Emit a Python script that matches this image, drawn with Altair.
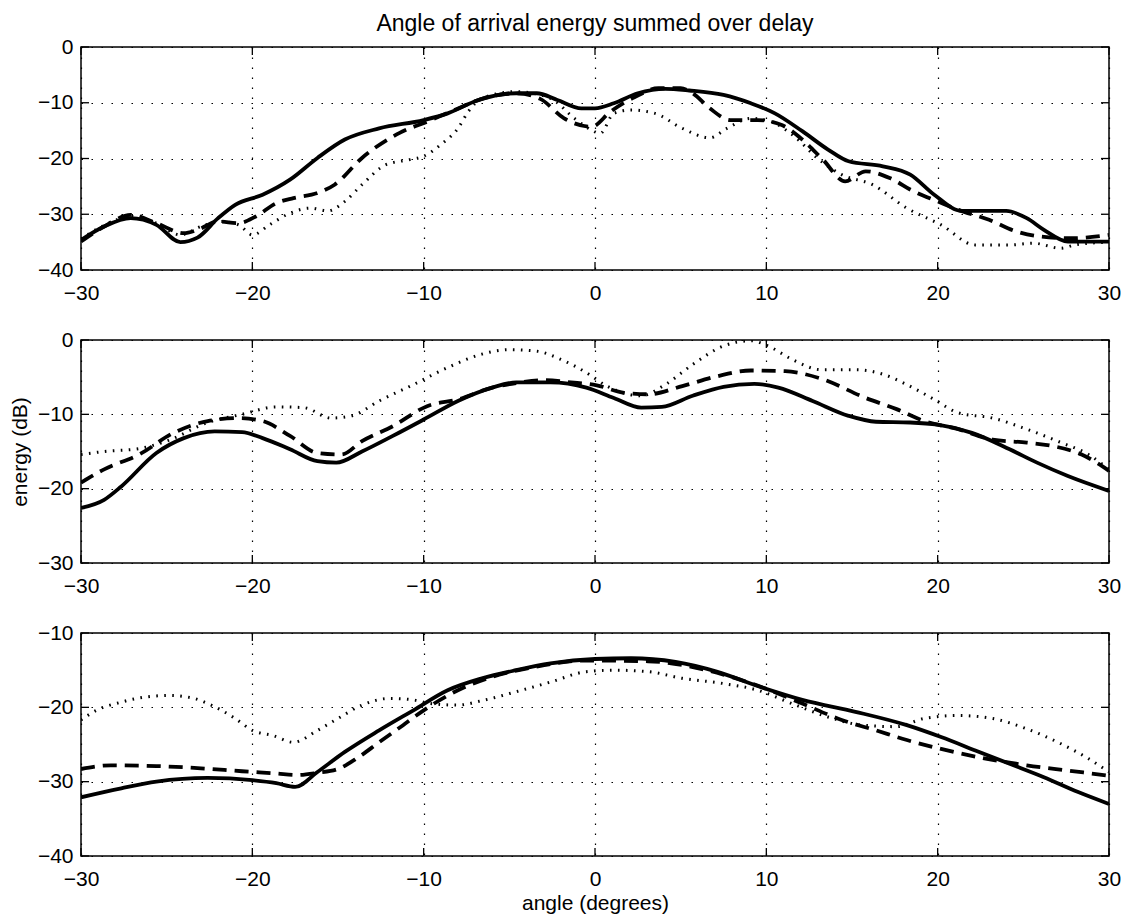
import altair as alt
import pandas as pd

FONT = "Liberation Sans"

# ---------------- Panel 1 ----------------
p1_solid_x = [-30, -28.65, -27.1, -25.6, -24.2, -23.2, -22.0, -21.0, -19.4, -17.8, -16.2, -14.6, -12.6, -10.0,
              -8.6, -6.8, -4.6, -3.4, -2.2, -0.8, 0, 1.1, 2.5, 4.1, 5.5, 7.5, 9.1, 10.5, 12.1, 13.6, 14.8, 16.8,
              18.4, 19.8, 21.4, 24.0, 25.2, 26.2, 27.6, 30]
p1_solid_y = [-34.6, -32.2, -30.7, -31.9, -35.0, -34.2, -30.7, -28.3, -26.5, -23.8, -19.9, -16.6, -14.6, -13.1,
              -11.9, -9.5, -8.3, -8.3, -9.5, -11.0, -11.0, -10.1, -8.3, -7.5, -7.8, -8.6, -10.1, -11.9, -15.1,
              -18.4, -20.5, -21.4, -22.9, -26.5, -29.4, -29.4, -30.7, -32.8, -34.9, -34.9]
p1_dash_x = [-30, -28.65, -27.1, -25.6, -24.0, -23.2, -22.0, -20.8, -19.8, -18.6, -17.6, -16.2, -15.2, -13.6,
             -11.4, -9.8, -8.2, -6.6, -4.6, -3.2, -1.8, -0.2, 0.9, 2.3, 3.7, 5.0, 5.7, 6.7, 7.9, 9.5, 10.9,
             12.1, 13.3, 14.6, 15.8, 17.2, 18.6, 20.0, 21.2, 23.0, 24.6, 26.0, 27.8, 30]
p1_dash_y = [-34.9, -32.2, -30.1, -31.6, -33.4, -32.8, -31.3, -31.6, -30.4, -28.0, -27.1, -26.2, -24.7, -19.9,
             -15.4, -13.4, -11.3, -9.3, -8.3, -9.3, -12.8, -14.3, -11.6, -9.0, -7.4, -7.4, -8.3, -11.0, -13.1,
             -13.1, -14.0, -16.6, -20.2, -24.1, -22.3, -23.5, -25.9, -27.7, -29.2, -31.0, -33.1, -34.0, -34.3,
             -33.7]
p1_dot_x = [-30, -28.65, -27.1, -25.6, -24.2, -23.0, -21.8, -20.8, -20.0, -19.0, -17.8, -16.6, -15.6, -14.6,
            -13.6, -12.2, -10.8, -10.0, -9.0, -8.0, -7.4, -6.6, -4.6, -2.6, -1.2, -0.2, 0.3, 1.1, 2.1, 3.5, 5.1,
            6.7, 7.7, 9.1, 10.3, 11.5, 13.2, 14.4, 16.2, 18.2, 20.2, 22.2, 24.2, 25.6, 27.2, 28.0, 30]
p1_dot_y = [-34.4, -32.0, -30.4, -31.6, -33.7, -32.2, -31.3, -31.9, -33.7, -31.9, -29.8, -28.9, -29.4, -27.7,
            -24.7, -21.1, -20.2, -19.6, -17.5, -14.6, -11.6, -9.2, -8.0, -9.2, -12.8, -14.9, -15.5, -11.9,
            -11.3, -11.9, -14.6, -16.3, -14.6, -12.8, -13.4, -15.7, -20.5, -22.9, -24.7, -28.9, -31.9, -35.5,
            -35.5, -35.2, -36.1, -35.5, -35.0]

# ---------------- Panel 2 ----------------
p2_solid_x = [-30, -28.65, -27.65, -25.6, -24.0, -22.2, -20.6, -19.4, -17.8, -16.2, -15.1, -13.6, -11.8, -10.0,
              -8.0, -6.0, -4.6, -2.6, -0.5, 1.1, 2.7, 3.9, 5.7, 7.5, 9.3, 10.7, 12.7, 14.8, 16.4, 18.4, 20.0,
              22.0, 24.2, 25.8, 27.6, 30]
p2_solid_y = [-22.6, -21.5, -19.7, -15.2, -13.2, -12.3, -12.4, -13.2, -14.7, -16.3, -16.5, -15.0, -12.9, -10.7,
              -8.2, -6.4, -5.7, -5.7, -6.4, -7.8, -9.1, -9.0, -7.5, -6.3, -5.9, -6.4, -8.2, -10.2, -11.0, -11.1,
              -11.4, -12.5, -14.7, -16.5, -18.3, -20.3]
p2_dash_x = [-30, -28.65, -26.6, -24.6, -22.6, -20.8, -19.4, -17.8, -16.2, -14.8, -13.6, -11.8, -9.8, -8.0,
             -6.0, -4.6, -3.0, -1.4, 0.1, 1.7, 3.1, 5.1, 7.1, 9.1, 11.1, 13.2, 15.8, 17.6, 19.2, 21.2, 23.2,
             25.2, 26.8, 28.4, 30]
p2_dash_y = [-19.2, -17.4, -15.4, -12.5, -10.9, -10.5, -10.9, -12.9, -15.2, -15.4, -13.6, -11.6, -8.9, -8.0,
             -6.4, -5.8, -5.4, -5.7, -6.1, -7.1, -7.3, -6.2, -4.9, -4.1, -4.2, -5.2, -7.8, -9.3, -10.9, -12.0,
             -13.4, -13.8, -14.3, -15.4, -17.6]
p2_dot_x = [-30, -28.65, -26.6, -25.0, -22.6, -20.6, -18.6, -17.0, -15.4, -14.2, -12.6, -10.6, -8.6, -6.6,
            -5.0, -3.4, -2.0, -0.5, 0.7, 2.7, 4.1, 5.7, 7.5, 9.1, 10.1, 11.5, 13.2, 15.2, 16.8, 18.2, 19.8, 21.2,
            23.2, 25.2, 27.2, 28.8, 30]
p2_dot_y = [-15.4, -15.0, -14.6, -13.6, -11.1, -10.0, -9.0, -9.1, -10.5, -10.2, -8.2, -6.0, -3.7, -1.9, -1.3,
            -1.5, -2.6, -4.4, -6.2, -7.5, -6.0, -3.3, -0.8, -0.1, -0.8, -2.6, -4.0, -4.0, -4.6, -6.0, -8.0,
            -9.8, -10.5, -12.0, -13.8, -15.4, -17.4]

# ---------------- Panel 3 ----------------
p3_solid_x = [-30, -27.65, -25.6, -22.6, -20.0, -18.6, -17.5, -16.2, -14.6, -12.6, -10.6, -8.6, -6.6, -4.6,
              -2.6, 0.0, 2.1, 4.7, 7.1, 9.7, 12.1, 15.2, 18.2, 20.2, 22.2, 24.2, 26.2, 28.2, 30]
p3_solid_y = [-32.1, -30.9, -30.0, -29.5, -29.8, -30.2, -30.7, -28.7, -26.0, -23.1, -20.4, -17.7, -16.1, -15.0,
              -14.1, -13.5, -13.4, -13.9, -15.2, -17.3, -19.0, -20.6, -22.4, -24.0, -25.8, -27.6, -29.4, -31.4,
              -33.0]
p3_dash_x = [-30, -28.25, -25.6, -23.0, -20.6, -18.6, -17.4, -16.2, -15.0, -13.8, -12.6, -11.2, -10.0, -8.0,
             -6.0, -3.6, -0.5, 3.1, 5.1, 7.5, 10.1, 12.1, 14.4, 16.4, 18.2, 20.2, 22.8, 25.2, 27.6, 30]
p3_dash_y = [-28.3, -27.8, -27.9, -28.2, -28.6, -28.9, -29.1, -28.8, -28.3, -26.7, -24.7, -22.4, -20.4, -17.7,
             -15.9, -14.6, -13.7, -13.8, -14.3, -15.6, -17.6, -19.5, -21.7, -23.1, -24.4, -25.6, -26.9, -27.8,
             -28.5, -29.2]
p3_dot_x = [-30, -29.1, -27.65, -26.2, -24.8, -23.4, -22.4, -21.0, -20.0, -18.8, -17.6, -16.2, -15.0, -13.6,
            -12.0, -10.6, -9.6, -8.0, -6.6, -4.6, -2.6, -0.5, 1.1, 3.1, 5.1, 7.5, 9.5, 11.5, 13.6, 15.6, 17.6,
            19.2, 21.2, 23.2, 25.2, 27.2, 28.8, 30]
p3_dot_y = [-21.7, -20.4, -19.3, -18.6, -18.4, -18.8, -19.7, -21.5, -23.1, -23.8, -24.7, -23.1, -21.5, -19.7,
            -18.8, -19.0, -19.5, -19.7, -19.1, -17.9, -16.6, -15.2, -15.0, -15.2, -16.1, -16.8, -17.7, -19.5,
            -21.3, -22.4, -22.6, -21.5, -21.1, -21.5, -22.9, -24.9, -26.9, -28.7]

x_ticks = [-30, -20, -10, 0, 10, 20, 30]
p1_yticks = [0, -10, -20, -30, -40]
p2_yticks = [0, -10, -20, -30]
p3_yticks = [-10, -20, -30, -40]
title_text = "Angle of arrival energy summed over delay"
y_title = "energy (dB)"
x_title = "angle (degrees)"

PW, PH = 1028, 223
TICK = 8

STYLES = {
    "dotted": dict(strokeDash=[1.6, 6.4], strokeWidth=3),
    "dashed": dict(strokeDash=[14, 8], strokeWidth=3.8),
    "solid": dict(strokeWidth=3.8),
}


def panel(series, ydom, yvals, show_ytitle, show_xtitle, title=None):
    xaxis = alt.Axis(values=x_ticks, title=x_title if show_xtitle else None)
    yaxis = alt.Axis(values=yvals, title=y_title if show_ytitle else None)
    xscale = alt.Scale(domain=[-30, 30], nice=False, zero=False)
    yscale = alt.Scale(domain=ydom, nice=False, zero=False)
    layers = []
    for name in ["dotted", "dashed", "solid"]:
        xs, ys = series[name]
        df = pd.DataFrame({"angle": xs, "energy": ys})
        layers.append(
            alt.Chart(df).mark_line(color="black", interpolate="monotone", clip=True,
                                    strokeCap="butt", **STYLES[name]).encode(
                x=alt.X("angle:Q", scale=xscale, axis=xaxis),
                y=alt.Y("energy:Q", scale=yscale, axis=yaxis),
            )
        )
    # inward tick marks on all four sides (MATLAB style)
    xt = pd.DataFrame({"angle": x_ticks})
    yt = pd.DataFrame({"energy": yvals})
    rule = dict(color="black", strokeWidth=1.3)
    layers.append(alt.Chart(xt).mark_rule(**rule).encode(
        x=alt.X("angle:Q", scale=xscale, axis=xaxis), y=alt.value(0), y2=alt.value(TICK)))
    layers.append(alt.Chart(xt).mark_rule(**rule).encode(
        x=alt.X("angle:Q", scale=xscale, axis=xaxis), y=alt.value(PH - TICK), y2=alt.value(PH)))
    layers.append(alt.Chart(yt).mark_rule(**rule).encode(
        y=alt.Y("energy:Q", scale=yscale, axis=yaxis), x=alt.value(0), x2=alt.value(TICK)))
    layers.append(alt.Chart(yt).mark_rule(**rule).encode(
        y=alt.Y("energy:Q", scale=yscale, axis=yaxis), x=alt.value(PW - TICK), x2=alt.value(PW)))
    ch = alt.layer(*layers).properties(width=PW, height=PH)
    if title:
        ch = ch.properties(title=alt.TitleParams(title, fontSize=23, font=FONT, fontWeight="normal",
                                                 color="black", anchor="middle", frame="group", offset=0))
    return ch


c1 = panel({"solid": (p1_solid_x, p1_solid_y), "dashed": (p1_dash_x, p1_dash_y),
            "dotted": (p1_dot_x, p1_dot_y)}, [-40, 0], p1_yticks, False, False, title_text)
c2 = panel({"solid": (p2_solid_x, p2_solid_y), "dashed": (p2_dash_x, p2_dash_y),
            "dotted": (p2_dot_x, p2_dot_y)}, [-30, 0], p2_yticks, True, False)
c3 = panel({"solid": (p3_solid_x, p3_solid_y), "dashed": (p3_dash_x, p3_dash_y),
            "dotted": (p3_dot_x, p3_dot_y)}, [-40, -10], p3_yticks, False, True)

chart = alt.vconcat(c1, c2, c3, spacing=70, bounds="flush").properties(
    padding={"left": 0, "top": 4, "right": 0, "bottom": 0}
).configure(background="white").configure_view(
    stroke="black", strokeWidth=1.5
).configure_axis(
    labelFont=FONT, labelFontSize=21, labelColor="black", labelFlush=False, labelOverlap=False,
    ticks=False, domain=False,
    grid=True, gridColor="black", gridDash=[1.5, 8.5], gridWidth=1.2, gridOpacity=1,
    titleFont=FONT, titleFontSize=21, titleFontWeight="normal", titleColor="black",
).configure_axisX(labelPadding=12, titlePadding=3).configure_axisY(labelPadding=8, titlePadding=7)

chart.save("out.html", embed_options={"renderer": "svg", "actions": False})
